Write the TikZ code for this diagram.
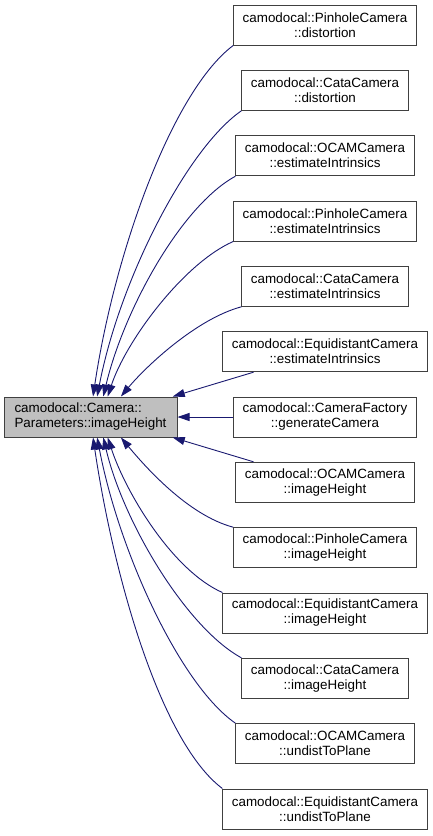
\documentclass[tikz,border=0pt]{standalone}
\usepackage{fontspec}
\setmainfont{Liberation Sans}
\usetikzlibrary{arrows.meta,positioning}
\definecolor{midnight}{RGB}{25,25,112}
\definecolor{boxgray}{RGB}{191,191,191}
\begin{document}
\begin{tikzpicture}[x=1pt, y=-1pt,
    caller/.style={rectangle, draw=black!75, line width=1pt, fill=white, align=center, font=\fontsize{13.4}{15}\selectfont, inner xsep=9pt, inner ysep=0pt, minimum height=40pt},
    target/.style={caller, fill=boxgray, align=left, minimum width=173pt},
    arrow/.style={draw=midnight, line width=0.9pt, -{Triangle[length=12pt,width=8pt]}}
]
\useasboundingbox (0,0) rectangle (433,836);

% Called function
\node[target] (height) at (90.5,417) {camodocal::Camera::\\Parameters::imageHeight};

% Callers
\node[caller] (pin_dist) at (325,25) {camodocal::PinholeCamera\\::distortion};
\node[caller] (cata_dist) at (325,90.3) {camodocal::CataCamera\\::distortion};
\node[caller] (ocam_est) at (325,155.7) {camodocal::OCAMCamera\\::estimateIntrinsics};
\node[caller] (pin_est) at (325,221) {camodocal::PinholeCamera\\::estimateIntrinsics};
\node[caller] (cata_est) at (325,286.3) {camodocal::CataCamera\\::estimateIntrinsics};
\node[caller] (equi_est) at (325,351.7) {camodocal::EquidistantCamera\\::estimateIntrinsics};
\node[caller] (factory) at (325,417) {camodocal::CameraFactory\\::generateCamera};
\node[caller] (ocam_h) at (325,482.3) {camodocal::OCAMCamera\\::imageHeight};
\node[caller] (pin_h) at (325,547.7) {camodocal::PinholeCamera\\::imageHeight};
\node[caller] (equi_h) at (325,613) {camodocal::EquidistantCamera\\::imageHeight};
\node[caller] (cata_h) at (325,678.3) {camodocal::CataCamera\\::imageHeight};
\node[caller] (ocam_undist) at (325,743.7) {camodocal::OCAMCamera\\::undistToPlane};
\node[caller] (equi_undist) at (325,809) {camodocal::EquidistantCamera\\::undistToPlane};

% Calls into the top of the box
\draw[arrow] (pin_dist.south west) .. controls +(-60,45) and +(22,-147) .. (height.83);
\draw[arrow] (cata_dist.south west) .. controls +(-55,38) and +(22,-115) .. (height.72);
\draw[arrow] (ocam_est.south west) .. controls +(-55,30) and +(20,-85) .. (height.58);
\draw[arrow] (pin_est.south west) .. controls +(-50,22) and +(18,-55) .. (height.50);
\draw[arrow] (cata_est.south west) .. controls +(-45,12) and +(25,-30) .. (height.34);

% Calls into the side
\draw[arrow] (equi_est.196) -- (height.14);
\draw[arrow] (factory.west) -- (height.east);
\draw[arrow] (ocam_h.164) -- (height.346);

% Calls into the bottom of the box
\draw[arrow] (pin_h.north west) .. controls +(-45,-12) and +(25,30) .. (height.326);
\draw[arrow] (equi_h.north west) .. controls +(-50,-22) and +(18,55) .. (height.310);
\draw[arrow] (cata_h.north west) .. controls +(-55,-30) and +(20,85) .. (height.302);
\draw[arrow] (ocam_undist.north west) .. controls +(-55,-38) and +(22,115) .. (height.288);
\draw[arrow] (equi_undist.north west) .. controls +(-60,-45) and +(22,147) .. (height.277);

\end{tikzpicture}
\end{document}
